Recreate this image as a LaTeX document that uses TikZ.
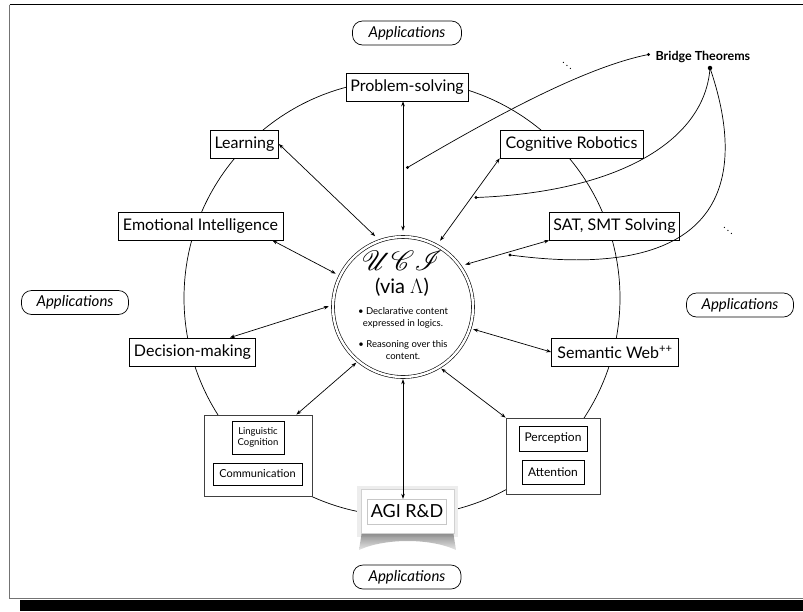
\documentclass[tikz,border=0pt]{standalone}
\usepackage{fontspec}
\setmainfont{Lato}
\usepackage{mathrsfs}
\usetikzlibrary{arrows.meta}

\tikzset{
  topic/.style={draw, line width=0.7pt, fill=white, inner sep=2pt,
    font=\fontsize{16}{19}\selectfont},
  group/.style={draw=black!75, line width=0.8pt, fill=white},
  subtopic/.style={draw, line width=0.6pt, fill=white, inner sep=1pt, align=center},
  pill/.style={draw, line width=0.7pt, rounded corners=10pt, minimum height=24pt,
    minimum width=107pt, font=\fontsize{15}{18}\selectfont\itshape},
  link/.style={{Stealth[length=5pt,width=3.6pt]}-{Stealth[length=5pt,width=3.6pt]},
    line width=0.7pt},
  bridge/.style={line width=0.7pt},
  dotmark/.style={circle, fill, inner sep=0pt, minimum size=3.4pt},
}

\begin{document}
\begin{tikzpicture}[x=1pt,y=-1pt]
\useasboundingbox (0,0) rectangle (803,611);

% page frame with its dark bottom band
\fill[black] (20,600) rectangle (803,611);
\draw[black!55, line width=1.6pt] (9.5,4.5) -- (9.5,598.5);
\draw[line width=0.9pt] (9.5,4.5) -- (803,4.5);
\draw[black!55, line width=0.8pt] (9.5,598.5) -- (803,598.5);

% the big ring carrying the topics
\draw[line width=0.7pt] (402,298) circle[radius=218pt];

% applications around the outside
\node[pill, minimum width=109pt] (appT) at (407,33) {Applications};
\node[pill] (appL) at (75,302.5) {Applications};
\node[pill] (appR) at (740,305) {Applications};
\node[pill, minimum width=108pt] (appB) at (407,577) {Applications};

% topics on the ring
\node[topic, minimum width=122pt, minimum height=28pt] (PS) at (407,87) {Problem-solving};
\node[topic, minimum width=68pt, minimum height=28pt] (Learn) at (244.5,144) {Learning};
\node[topic, minimum width=143pt, minimum height=28pt] (CR) at (571.5,144) {Cognitive Robotics};
\node[topic, minimum width=165pt, minimum height=28pt] (EI) at (200.5,226) {Emotional Intelligence};
\node[topic, minimum width=130pt, minimum height=28pt] (SAT) at (614.5,226) {SAT, SMT Solving};
\node[topic, minimum width=126pt, minimum height=28pt] (DM) at (192.5,352) {Decision-making};
\node[topic, minimum width=127pt, minimum height=28pt] (SW) at (615,352) {Semantic Web\textsuperscript{++}};

% grouped topics
\node[group, minimum width=108pt, minimum height=81pt] (LB) at (258,455.5) {};
\node[subtopic, minimum width=52pt, minimum height=33pt,
  font=\fontsize{9.5}{11}\selectfont] (LC) at (258,437.5) {Linguistic\\Cognition};
\node[subtopic, minimum width=89pt, minimum height=22pt,
  font=\fontsize{11}{13}\selectfont] (Comm) at (257.5,474) {Communication};

\node[group, minimum width=94pt, minimum height=76pt] (RB) at (553,456) {};
\node[subtopic, minimum width=68pt, minimum height=25pt,
  font=\fontsize{12}{14}\selectfont] (Perc) at (553,438.5) {Perception};
\node[subtopic, minimum width=62pt, minimum height=24pt,
  font=\fontsize{12}{14}\selectfont] (Att) at (553,472.5) {Attention};

% AGI R&D card with its curled shadow
\fill[black!7] (357,486) rectangle (458,537);
\shade[top color=black!60, bottom color=black!12, opacity=0.8]
  (362,531) -- (453,531) -- (456,550) .. controls (430,538) and (385,538) .. (359,550) -- cycle;
\node[draw=black!18, line width=0.5pt, fill=white, minimum width=93pt, minimum height=44pt] (AGI) at (407.5,511) {};
\node[draw=black!22, line width=0.4pt, minimum width=74pt, minimum height=25pt,
  font=\fontsize{18}{22}\selectfont] (AGIin) at (407,511.5) {AGI R\&D};

% the core
\node[circle, draw, double, double distance=2.4pt, line width=0.6pt, fill=white,
  minimum size=140pt, inner sep=0pt] (UCI) at (403,307) {};
\node[circle, minimum size=148pt, inner sep=0pt] (ring) at (403,305) {};
\node (ucit) at (402,261) {\scalebox{1.12}{\fontsize{24.88}{28}\selectfont$\mathscr{UCI}$}};
\node[font=\fontsize{20}{24}\selectfont] (via) at (402,287) {(via $\Lambda$)};
\node[font=\fontsize{9.5}{12}\selectfont, align=center] (b1) at (403,318)
  {• Declarative content\\expressed in logics.};
\node[font=\fontsize{9.5}{12}\selectfont, align=center] (b2) at (403,350.5)
  {• Reasoning over this\\content.};

% links between the core and each topic
\draw[link] (ring.north |- PS.south) -- (ring.north);
\draw[link] (Learn.east) -- (ring.112);
\draw[link] (CR.south west) -- (ring.60);
\draw[link] ([xshift=-11pt]EI.south east) -- (ring.155);
\draw[link] (SAT.south west) -- (ring.33);
\draw[link] ([xshift=-26pt]DM.north east) -- (ring.181);
\draw[link] (SW.west) -- (ring.-19);
\draw[link] ([xshift=-16pt]LB.north east) -- (ring.231);
\draw[link] (RB.north west) -- (ring.-59);
\draw[link] (ring.south) -- (ring.south |- AGIin.north);

% bridge theorems
\node[font=\bfseries\fontsize{12.5}{15}\selectfont, anchor=west] (BT) at (652,57) {Bridge Theorems};
\node[dotmark] (bA) at (648.5,54.5) {};
\node[dotmark, minimum size=4.5pt] (bHub) at (710,68) {};
\node[dotmark] (dPS) at (407.5,167.5) {};
\node[dotmark] (dCR) at (476,197.5) {};
\node[dotmark] (dSAT) at (510,255) {};
\draw[bridge] (dPS.center) .. controls (480,125) and (580,68) .. (bA.center);
\draw[bridge] (dCR.center) .. controls (620,192) and (705,140) .. (bHub.center);
\draw[bridge] (dSAT.center) .. controls (735,285) and (745,170) .. (bHub.center);
\node[font=\fontsize{10}{12}\selectfont] (ell1) at (567,63) {$\ddots$};
\node[font=\fontsize{10}{12}\selectfont] (ell2) at (728,228) {$\ddots$};
\end{tikzpicture}
\end{document}
